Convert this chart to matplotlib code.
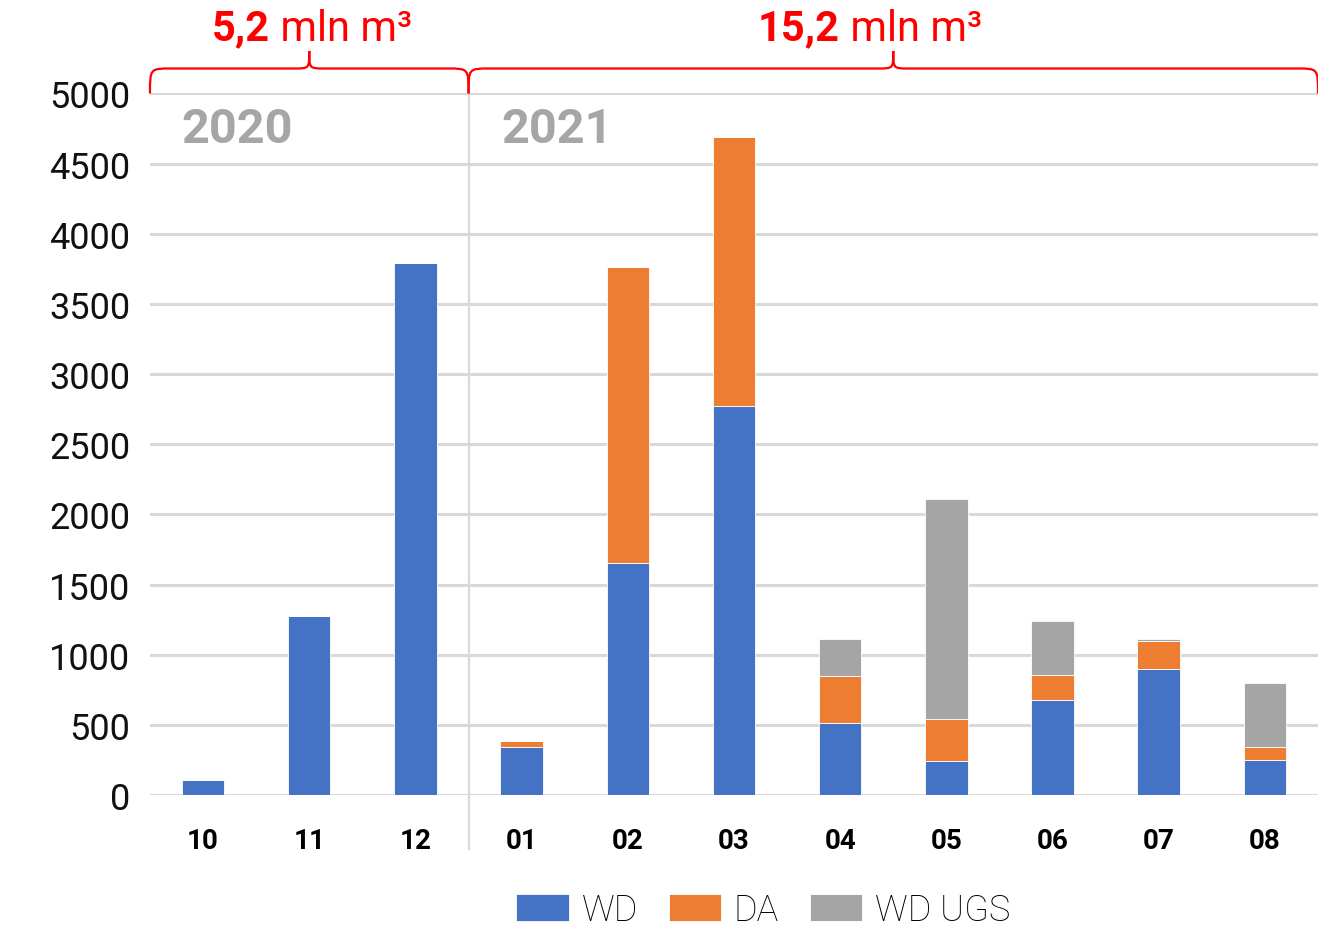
import matplotlib
matplotlib.use("Agg")
import matplotlib.pyplot as plt
import numpy as np
from matplotlib.path import Path
from matplotlib.patches import PathPatch
from matplotlib.offsetbox import TextArea, HPacker, AnnotationBbox

plt.rcParams['font.family'] = ['Roboto', 'DejaVu Sans']

months = ['10', '11', '12', '01', '02', '03', '04', '05', '06', '07', '08']
wd = [110, 1275, 3790, 340, 1655, 2775, 515, 240, 675, 895, 252]
da = [0, 0, 0, 45, 2110, 1918, 335, 300, 180, 205, 88]
wd_ugs = [0, 0, 0, 0, 0, 0, 260, 1570, 385, 10, 460]
years = ['2020', '2021']
totals = ['5,2', '15,2']

c_wd = '#4472C4'
c_da = '#ED7D31'
c_ugs = '#A5A5A5'
grid_c = '#D9D9D9'
red = '#FF0000'

fig = plt.figure(figsize=(13.18, 9.28), dpi=100)
ax = fig.add_axes([0.1138, 0.1422, 0.8862, 0.7560])

x = np.arange(len(months))
w = 0.4
wd = np.array(wd)
da = np.array(da)
wd_ugs = np.array(wd_ugs)
ax.bar(x, wd, w, color=c_wd, edgecolor='white', linewidth=0.6, label='WD', zorder=3)
ax.bar(x, da, w, bottom=wd, color=c_da, edgecolor='white', linewidth=0.6, label='DA', zorder=3)
ax.bar(x, wd_ugs, w, bottom=wd + da, color=c_ugs, edgecolor='white', linewidth=0.6,
       label='WD UGS', zorder=3)

ax.set_xlim(-0.5, len(months) - 0.5)
ax.set_ylim(0, 5000)
ax.set_yticks(np.arange(0, 5001, 500))
ax.yaxis.grid(True, color=grid_c, linewidth=2.2, zorder=0)
ax.set_axisbelow(True)
for s in ax.spines.values():
    s.set_visible(False)
ax.tick_params(axis='both', length=0)
ax.tick_params(axis='y', labelsize=26, pad=14, labelcolor='#111111')
ax.set_xticks(x)
ax.set_xticklabels(months, fontsize=20, fontweight='bold')
ax.tick_params(axis='x', pad=23)

# year divider
split = 2.5
ax.plot([split, split], [-385, 5140], color=grid_c, linewidth=1.6, clip_on=False, zorder=1)

# year labels
ax.text(-0.2, 4745, years[0], fontsize=35, fontweight='bold', color='#A6A6A6',
        ha='left', va='center')
ax.text(2.81, 4745, years[1], fontsize=35, fontweight='bold', color='#A6A6A6',
        ha='left', va='center')


def brace(x0, x1, y0, y1, ytip, rx=0.2, rt=0.14):
    xm = (x0 + x1) / 2
    verts = [(x0, y0),
             (x0, y1), (x0, y1), (x0 + rx, y1),
             (xm - rt, y1),
             (xm, y1), (xm, y1), (xm, ytip),
             (xm, y1), (xm, y1), (xm + rt, y1),
             (x1 - rx, y1),
             (x1, y1), (x1, y1), (x1, y0)]
    codes = [Path.MOVETO,
             Path.CURVE4, Path.CURVE4, Path.CURVE4,
             Path.LINETO,
             Path.CURVE4, Path.CURVE4, Path.CURVE4,
             Path.CURVE4, Path.CURVE4, Path.CURVE4,
             Path.LINETO,
             Path.CURVE4, Path.CURVE4, Path.CURVE4]
    p = PathPatch(Path(verts, codes), facecolor='none', edgecolor=red, linewidth=1.6,
                  clip_on=False, zorder=4)
    ax.add_patch(p)
    return xm


def total_label(xc, y, value):
    parts = [TextArea(value, textprops=dict(color=red, fontsize=30, fontweight='bold')),
             TextArea(' mln m³', textprops=dict(color=red, fontsize=30))]
    box = HPacker(children=parts, align='baseline', pad=0, sep=0)
    ab = AnnotationBbox(box, (xc, y), frameon=False, box_alignment=(0.5, 0),
                        annotation_clip=False)
    ax.add_artist(ab)


m1 = brace(-0.5, split, 5000, 5178, 5303)
m2 = brace(split, len(months) - 0.5, 5000, 5178, 5303)
total_label(m1 + 0.03, 5320, totals[0])
total_label(m2 - 0.22, 5320, totals[1])

fig.legend(loc='center', bbox_to_anchor=(0.579, 0.018), ncol=3, frameon=False,
           prop=dict(size=26, weight='light'), handlelength=1.45, handleheight=0.75,
           handletextpad=0.35, columnspacing=0.85, borderpad=0.1)

fig.savefig('out.png', dpi=100)
